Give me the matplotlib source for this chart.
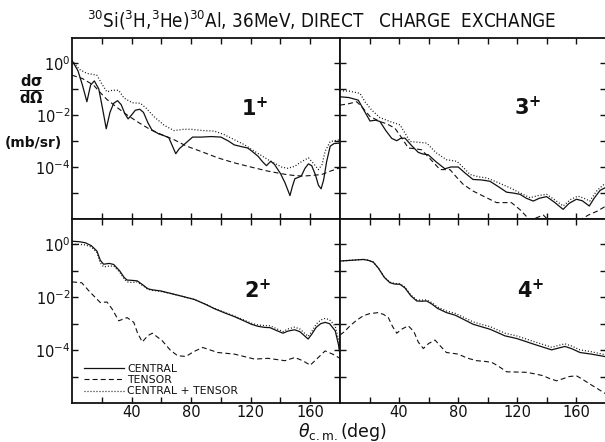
import numpy as np
import matplotlib
matplotlib.use("Agg")
import matplotlib.pyplot as plt
from matplotlib.ticker import FixedLocator, FuncFormatter

# ---- angular distributions, log10(dsigma/dOmega [mb/sr]) vs theta_cm [deg] ----
# 1+ state
ang_1_central = [0, 4, 7, 10, 12.5, 15, 18, 21, 23, 25.5, 28, 30.6, 33, 35.5, 37.7, 40, 42.5, 45.5,
                 48, 51, 53.6, 58, 62, 65, 67.5, 69.7, 72, 75, 81, 87, 93.4, 100, 105, 109, 114,
                 118, 121, 125, 128, 130.6, 133.5, 136, 140, 143, 146.4, 148, 149.7, 152, 154,
                 156.5, 158.8, 161, 163.5, 165.5, 167.3, 169, 171, 173.4, 176, 180]
log_1_central = [0.10, -0.3, -0.85, -1.49, -0.85, -0.69, -1.0, -1.9, -2.53, -1.9, -1.55, -1.45, -1.6,
                 -1.95, -2.15, -2.0, -1.82, -1.78, -1.9, -2.3, -2.57, -2.72, -2.8, -2.87, -3.2, -3.49,
                 -3.3, -3.15, -2.85, -2.85, -2.83, -2.85, -3.0, -3.15, -3.22, -3.27, -3.4, -3.59,
                 -3.8, -3.95, -3.78, -3.9, -4.25, -4.6, -5.1, -4.75, -4.45, -4.4, -4.35, -4.05,
                 -3.88, -3.95, -4.3, -4.7, -4.84, -4.5, -3.8, -3.2, -3.1, -3.08]
ang_1_tensor = [0, 7, 14.4, 20, 23.4, 30, 37, 45, 52.8, 60, 68.5, 77, 86.6, 98, 109, 120, 131.7,
                140, 145, 150, 155, 160, 167.6, 174, 180]
log_1_tensor = [-0.47, -0.6, -0.85, -1.2, -1.4, -1.7, -2.0, -2.3, -2.57, -2.75, -2.95, -3.2, -3.4,
                -3.65, -3.84, -4.0, -4.16, -4.25, -4.3, -4.33, -4.35, -4.33, -4.29, -4.15, -4.03]
ang_1_total = [0, 5, 10, 16.7, 20, 23.4, 27, 31.3, 35, 40.4, 46, 50, 55, 62, 68.5, 75, 80, 88,
               95.6, 102, 109, 116, 122.7, 131.7, 140.7, 145, 149.7, 154, 158.8, 162, 165.5,
               168, 170, 173.4, 180]
log_1_total = [0.1, -0.25, -0.4, -0.47, -0.8, -1.11, -1.05, -1.05, -1.35, -1.53, -1.55, -1.75,
               -2.06, -2.4, -2.6, -2.55, -2.55, -2.6, -2.62, -2.75, -2.95, -3.15, -3.4, -3.72,
               -4.0, -4.05, -3.97, -3.8, -3.65, -3.85, -4.1, -3.9, -3.4, -3.02, -2.95]

# 3+ state
ang_3_central = [0, 6, 12.4, 16, 20.3, 24, 27, 31, 35, 38.4, 41, 44, 48, 53, 56, 59.7, 65, 71, 75,
                 80, 85, 90, 96, 101.5, 107, 112.8, 117, 121.8, 126, 130.8, 135, 139.8, 145, 151,
                 155, 160, 164, 168.7, 172, 176, 180]
log_3_central = [-1.30, -1.33, -1.43, -1.8, -2.23, -2.2, -2.25, -2.6, -2.9, -2.99, -2.9, -2.89,
                 -3.15, -3.44, -3.5, -3.53, -3.8, -4.07, -4.0, -4.0, -4.25, -4.48, -4.5, -4.55,
                 -4.75, -4.97, -5.0, -5.05, -5.2, -5.31, -5.2, -5.14, -5.35, -5.63, -5.4, -5.24,
                 -5.3, -5.5, -5.2, -4.9, -4.78]
ang_3_tensor = [0, 5, 11.3, 15, 20.3, 27, 32, 37.2, 42, 46.2, 51, 55.3, 62, 67.7, 74.4, 79, 83.4,
                90.2, 98, 106, 116, 122, 128.6, 133, 137.6, 142, 150, 162, 168, 174, 180]
log_3_tensor = [-1.62, -1.58, -1.49, -1.7, -2.06, -2.25, -2.35, -2.51, -2.9, -3.27, -3.3, -3.34,
                -3.75, -4.1, -4.1, -4.4, -4.67, -4.93, -5.15, -5.37, -5.37, -5.65, -6.05, -5.95,
                -5.85, -6.1, -6.3, -6.05, -5.85, -5.7, -5.5]
ang_3_total = [0, 6, 13.5, 17, 21.4, 27, 33.8, 40.6, 44, 47.4, 53, 58.6, 65, 72, 79, 84, 88, 94,
               99.3, 107, 115, 122, 128.6, 134, 139.8, 145, 151, 156, 161, 165, 169, 174, 180]
log_3_total = [-1.07, -1.08, -1.17, -1.5, -1.81, -2.1, -2.25, -2.38, -2.7, -3.02, -3.05, -3.08,
               -3.45, -3.72, -3.78, -4.05, -4.29, -4.38, -4.42, -4.6, -4.8, -5.0, -5.18, -5.1,
               -5.05, -5.25, -5.5, -5.25, -5.12, -5.2, -5.31, -4.9, -4.6]

# 2+ state
ang_2_central = [0, 5, 9, 13, 16.7, 19, 21.2, 25, 28, 32, 35, 37, 40, 43.8, 48, 51, 54, 59.5, 66,
                 73, 82, 89, 95.6, 102, 109, 115, 120.4, 125, 129.4, 133, 137, 141.7, 145, 149.5,
                 153, 156, 158.6, 161, 164, 167, 170, 173, 176.8, 179, 180]
log_2_central = [0.12, 0.1, 0.06, -0.05, -0.25, -0.6, -0.75, -0.72, -0.76, -1.0, -1.25, -1.35,
                 -1.36, -1.38, -1.55, -1.68, -1.72, -1.76, -1.85, -1.95, -2.08, -2.25, -2.43,
                 -2.58, -2.73, -2.88, -3.02, -3.1, -3.14, -3.15, -3.25, -3.36, -3.28, -3.23,
                 -3.3, -3.45, -3.58, -3.4, -3.14, -3.0, -2.95, -3.0, -3.27, -3.8, -4.2]
ang_2_tensor = [0, 6.5, 12, 19, 23.5, 27, 31.4, 37, 41.5, 44, 47.2, 51, 54, 60.7, 66, 70.9, 76.5,
                82, 87.8, 97.9, 109, 122.7, 131.7, 143, 149.7, 155, 160, 165, 170, 175, 180]
log_2_tensor = [-1.42, -1.45, -1.8, -2.2, -2.18, -2.45, -2.89, -2.77, -2.95, -3.35, -3.69, -3.45,
                -3.36, -3.65, -4.0, -4.21, -4.24, -4.05, -3.9, -4.09, -4.15, -4.34, -4.31, -4.4,
                -4.28, -4.4, -4.57, -4.3, -4.03, -4.15, -4.31]
ang_2_total = ang_2_central
log_2_total = [0.0, 0.0, -0.02, -0.1, -0.3, -0.7, -0.85, -0.82, -0.82, -1.05, -1.3, -1.42, -1.44,
               -1.42, -1.58, -1.7, -1.74, -1.78, -1.86, -1.95, -2.08, -2.24, -2.42, -2.56, -2.71,
               -2.85, -2.98, -3.05, -3.07, -3.08, -3.18, -3.3, -3.2, -3.13, -3.2, -3.35, -3.48,
               -3.3, -3.02, -2.86, -2.8, -2.85, -3.1, -3.6, -4.05]

# 4+ state
ang_4_central = [0, 8, 15.8, 19, 22.5, 26, 30, 33.8, 37, 40.6, 44, 48, 51.9, 55, 58.6, 62, 66, 72,
                 78, 83.4, 90, 96, 101.5, 106, 111.6, 119.5, 125, 130.8, 137, 143.2, 148, 152.2,
                 157, 162.4, 170, 175, 180]
log_4_central = [-0.63, -0.6, -0.57, -0.6, -0.67, -0.9, -1.25, -1.45, -1.5, -1.51, -1.65, -1.95,
                 -2.14, -2.15, -2.14, -2.25, -2.42, -2.58, -2.68, -2.83, -3.02, -3.12, -3.21,
                 -3.32, -3.46, -3.56, -3.66, -3.77, -3.88, -3.99, -3.92, -3.86, -3.95, -4.09,
                 -4.15, -4.2, -4.25]
ang_4_tensor = [0, 3, 6.8, 11, 15.8, 20, 26, 29.5, 32.7, 35.5, 38.4, 42, 46.2, 50, 53, 56.4, 60,
                64.3, 68, 72, 76, 80, 86, 92.5, 97, 102.6, 107, 112.8, 120, 126.3, 132, 137.6,
                142, 146.6, 151, 155, 160, 164, 169, 174, 180]
log_4_tensor = [-3.43, -3.3, -3.08, -2.88, -2.7, -2.62, -2.58, -2.65, -2.77, -3.1, -3.36, -3.2,
                -3.08, -3.3, -3.7, -3.94, -3.75, -3.62, -3.85, -4.09, -4.12, -4.15, -4.3, -4.4,
                -4.42, -4.46, -4.6, -4.82, -4.83, -4.84, -4.9, -4.97, -5.08, -5.16, -5.08, -5.0,
                -4.97, -5.1, -5.28, -5.45, -5.66]
ang_4_total = ang_4_central
log_4_total = [-0.63, -0.6, -0.57, -0.6, -0.67, -0.9, -1.24, -1.43, -1.48, -1.49, -1.62, -1.92,
               -2.1, -2.11, -2.1, -2.2, -2.37, -2.52, -2.61, -2.75, -2.93, -3.03, -3.11, -3.22,
               -3.36, -3.46, -3.56, -3.67, -3.78, -3.89, -3.82, -3.76, -3.85, -3.99, -4.06,
               -4.12, -4.18]

panels = [
    ("1", ang_1_central, log_1_central, ang_1_tensor, log_1_tensor, ang_1_total, log_1_total),
    ("3", ang_3_central, log_3_central, ang_3_tensor, log_3_tensor, ang_3_total, log_3_total),
    ("2", ang_2_central, log_2_central, ang_2_tensor, log_2_tensor, ang_2_total, log_2_total),
    ("4", ang_4_central, log_4_central, ang_4_tensor, log_4_tensor, ang_4_total, log_4_total),
]

x_ticks = [20, 40, 60, 80, 100, 120, 140, 160]
x_ticklabels = ["", "40", "", "80", "", "120", "", "160"]
y_decades = [0, -1, -2, -3, -4, -5]
y_labelled = [0, -2, -4]

INK = "#111111"
plt.rcParams["font.family"] = ["DejaVu Sans"]
plt.rcParams["mathtext.fontset"] = "dejavusans"

fig = plt.figure(figsize=(6.05, 4.42), dpi=100)

W, H = 605.0, 442.0
x_left, x_mid, x_right = 72 / W, 340 / W, 606 / W
y_top, y_mid, y_bot = 1 - 38 / H, 1 - 219 / H, 1 - 403 / H

rects = [
    (x_left, y_mid, x_mid - x_left, y_top - y_mid),
    (x_mid, y_mid, x_right - x_mid, y_top - y_mid),
    (x_left, y_bot, x_mid - x_left, y_mid - y_bot),
    (x_mid, y_bot, x_right - x_mid, y_mid - y_bot),
]

ylo, yhi = 1e-6, 10 ** 0.96


def ylab(v, pos):
    e = int(round(np.log10(v)))
    if e in y_labelled:
        return r"$\mathregular{10^{%d}}$" % e
    return ""


label_pos = [(0.683, 0.613), (0.706, 0.619), (0.694, 0.614), (0.717, 0.614)]

for i, (rect, pdata) in enumerate(zip(rects, panels)):
    ax = fig.add_axes(rect)
    name, ac, lc, at, lt, ao, lo = pdata
    ax.plot(ac, np.power(10.0, lc), color=INK, lw=0.9, ls="-", label="CENTRAL")
    ax.plot(at, np.power(10.0, lt), color=INK, lw=0.8, ls=(0, (4.5, 2.8)), label="TENSOR")
    ax.plot(ao, np.power(10.0, lo), color=INK, lw=0.9, ls=(0, (0.8, 1.6)),
            label="CENTRAL + TENSOR")
    ax.set_yscale("log")
    ax.set_xlim(0, 180)
    ax.set_ylim(ylo, yhi)
    ax.yaxis.set_major_locator(FixedLocator([10.0 ** d for d in y_decades]))
    ax.yaxis.set_minor_locator(FixedLocator([]))
    ax.xaxis.set_major_locator(FixedLocator(x_ticks))
    for sp in ax.spines.values():
        sp.set_linewidth(1.3)
        sp.set_color(INK)

    is_top = i < 2
    is_left = i % 2 == 0

    # inward ticks on every side; at the shared frame lines the ticks of the
    # neighbouring panels meet and read as crossing marks
    ax.tick_params(axis="x", direction="in", length=4, width=1.0, color=INK,
                   top=True, bottom=True)
    ax.tick_params(axis="y", direction="in", length=4, width=1.0, color=INK,
                   left=True, right=True)
    if is_top:
        ax.tick_params(axis="x", labelbottom=False)
    else:
        ax.tick_params(axis="x", labelsize=10.5, pad=1.5, labelcolor=INK)
        ax.set_xticklabels(x_ticklabels)
    if is_left:
        ax.tick_params(axis="y", labelsize=10.5, pad=1, labelcolor=INK)
        ax.yaxis.set_major_formatter(FuncFormatter(ylab))
    else:
        ax.tick_params(axis="y", labelleft=False)

    ax.text(label_pos[i][0], label_pos[i][1], name + r"$^{\mathbf{+}}$", transform=ax.transAxes,
            fontsize=15, fontweight="bold", color=INK, ha="center", va="center")

    if i == 2:
        ax.legend(loc="lower left", bbox_to_anchor=(0.022, 0.0), frameon=False,
                  fontsize=7.8, handlelength=3.7, handletextpad=0.25, labelspacing=0.12,
                  borderaxespad=0.2, labelcolor=INK)

fig.text(0.531, 0.955,
         r"$\mathregular{^{30}}$Si($\mathregular{^3}$H,$\mathregular{^3}$He)$\mathregular{^{30}}$Al, 36MeV, DIRECT   CHARGE  EXCHANGE",
         ha="center", va="center", fontsize=13.5, stretch="condensed", color=INK)

fig.text(31 / W, 1 - 90 / H, r"$\mathbf{\frac{d\sigma}{d\Omega}}$", ha="center", va="center",
         fontsize=15, color=INK)
fig.text(33 / W, 1 - 143 / H, "(mb/sr)", ha="center", va="center", fontsize=10,
         fontweight="bold", color=INK)
fig.text(342 / W, 1 - 432 / H, r"$\theta_{\mathregular{c.m.}}$(deg)", ha="center", va="center",
         fontsize=12.5, color=INK)

fig.savefig("out.png", dpi=100)
